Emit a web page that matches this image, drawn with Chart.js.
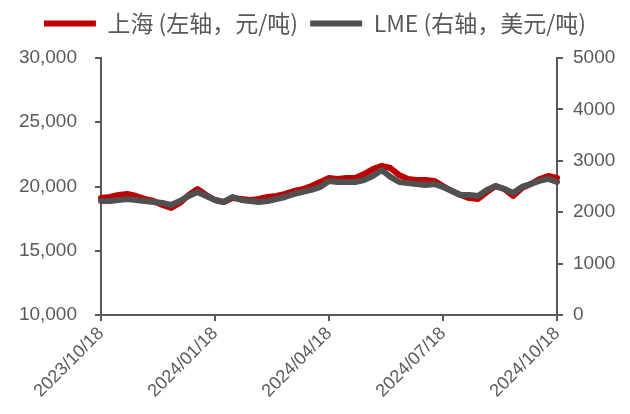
<!DOCTYPE html>
<html>
<head>
<meta charset="utf-8">
<script src="https://cdn.jsdelivr.net/npm/chart.js@4/dist/chart.umd.min.js"></script>
<style>
  html, body { margin: 0; padding: 0; background: #fff; }
  #wrap { width: 630px; height: 414px; }
</style>
</head>
<body>
<div id="wrap"><canvas id="chart" width="630" height="414"></canvas></div>
<script>
// dates (weekly, quarter dates exact)
var dates = [
  "2023/10/18","2023/10/25","2023/11/01","2023/11/08","2023/11/15","2023/11/22","2023/11/29",
  "2023/12/06","2023/12/13","2023/12/20","2023/12/27","2024/01/03","2024/01/10",
  "2024/01/18","2024/01/25","2024/02/01","2024/02/08","2024/02/15","2024/02/22","2024/02/29",
  "2024/03/07","2024/03/14","2024/03/21","2024/03/28","2024/04/04","2024/04/11",
  "2024/04/18","2024/04/25","2024/05/02","2024/05/09","2024/05/16","2024/05/23","2024/05/30",
  "2024/06/06","2024/06/13","2024/06/20","2024/06/27","2024/07/04","2024/07/11",
  "2024/07/18","2024/07/25","2024/08/01","2024/08/08","2024/08/15","2024/08/22","2024/08/29",
  "2024/09/05","2024/09/12","2024/09/19","2024/09/26","2024/10/03","2024/10/10",
  "2024/10/18"
];
var tickDates = ["2023/10/18","2024/01/18","2024/04/18","2024/07/18","2024/10/18"];

// 上海 元/吨
var shanghai = [
  19100,19180,19340,19420,19260,19030,18870,18560,18330,18720,19340,19800,19340,
  18950,18790,19100,19030,18950,19030,19180,19260,19420,19650,19800,20040,20350,
  20660,20580,20660,20660,20970,21360,21600,21440,20890,20580,20510,20510,20430,
  20040,19650,19340,19100,19030,19570,20040,19800,19260,19880,20190,20580,20820,
  20660
];
// LME 美元/吨
var lme = [
  2218,2218,2238,2257,2238,2218,2199,2180,2141,2218,2316,2394,2316,
  2238,2199,2296,2238,2218,2199,2218,2257,2296,2355,2394,2433,2491,
  2608,2588,2588,2588,2627,2705,2822,2686,2588,2569,2549,2530,2549,
  2491,2413,2335,2335,2316,2433,2510,2452,2374,2491,2549,2608,2647,
  2588
];

var axisColor = "#595959";
var textColor = "#595959";
var fontFam = "'Liberation Sans', 'Noto Sans CJK SC', sans-serif";

// 图例高度固定，让绘图区顶部对齐
var legendHeight = {
  id: "legendHeight",
  beforeInit: function(chart) {
    var fit = chart.legend.fit;
    chart.legend.fit = function() {
      fit.bind(chart.legend)();
      this.height = 58;
    };
  }
};

var ctx = document.getElementById("chart");
var chart = new Chart(ctx, {
  type: "line",
  data: {
    labels: dates,
    datasets: [
      {
        label: "上海 (左轴，元/吨)",
        data: shanghai,
        yAxisID: "y",
        borderColor: "#C00000",
        backgroundColor: "#C00000",
        borderWidth: 6,
        pointRadius: 0,
        tension: 0,
        borderJoinStyle: "round",
        borderCapStyle: "round",
        order: 2
      },
      {
        label: "LME (右轴，美元/吨)",
        data: lme,
        yAxisID: "y1",
        borderColor: "#505050",
        backgroundColor: "#505050",
        borderWidth: 6,
        pointRadius: 0,
        tension: 0,
        borderJoinStyle: "round",
        borderCapStyle: "round",
        order: 1
      }
    ]
  },
  plugins: [legendHeight],
  options: {
    responsive: false,
    animation: false,
    layout: { padding: { top: 0, left: 0, right: 0, bottom: 0 } },
    plugins: {
      tooltip: { enabled: false },
      legend: {
        position: "top",
        labels: {
          usePointStyle: true,
          pointStyle: "line",
          pointStyleWidth: 52,
          padding: 12,
          color: textColor,
          font: { family: "'Noto Sans CJK SC', sans-serif", size: 23 },
          sort: function(a, b) { return a.datasetIndex - b.datasetIndex; }
        }
      }
    },
    scales: {
      x: {
        offset: false,
        afterFit: function(s) { s.height = 99; },
        border: { color: axisColor, width: 2 },
        grid: {
          drawOnChartArea: false,
          tickLength: 6,
          lineWidth: 2,
          color: function(c) {
            return (c.tick && tickDates.indexOf(dates[c.index]) >= 0) ? axisColor : "rgba(0,0,0,0)";
          }
        },
        ticks: {
          autoSkip: false,
          minRotation: 45,
          maxRotation: 45,
          padding: 2,
          color: textColor,
          font: { family: fontFam, size: 18 },
          callback: function(v, i) {
            return tickDates.indexOf(dates[i]) >= 0 ? dates[i] : "";
          }
        }
      },
      y: {
        position: "left",
        min: 10000,
        max: 30000,
        afterFit: function(s) { s.width = 101; },
        border: { color: axisColor, width: 2 },
        grid: { drawOnChartArea: false, tickLength: 6, lineWidth: 2, color: axisColor },
        ticks: {
          stepSize: 5000,
          padding: 18,
          color: textColor,
          font: { family: fontFam, size: 19 },
          callback: function(v) { return v.toLocaleString("en-US"); }
        }
      },
      y1: {
        position: "right",
        min: 0,
        max: 5000,
        afterFit: function(s) { s.width = 73; },
        border: { color: axisColor, width: 2 },
        grid: { drawOnChartArea: false, tickLength: 6, lineWidth: 2, color: axisColor },
        ticks: {
          stepSize: 1000,
          padding: 10,
          color: textColor,
          font: { family: fontFam, size: 19 },
          callback: function(v) { return String(v); }
        }
      }
    }
  }
});
</script>
</body>
</html>
